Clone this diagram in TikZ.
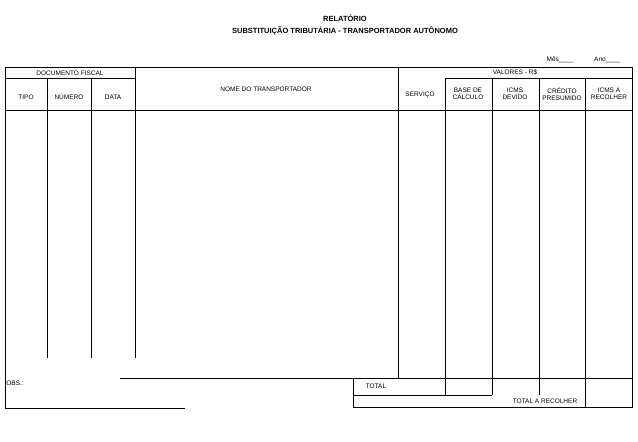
\documentclass[tikz,border=0pt]{standalone}
\usepackage{fontspec}
\setmainfont{Liberation Sans}
\usetikzlibrary{positioning}

\begin{document}
\begin{tikzpicture}[x=1pt, y=-1pt, line width=0.8pt]
        \tikzstyle{lbl} = [font=\fontsize{6.5}{7}\selectfont, align=center, inner sep=0pt]
        \tikzstyle{ttl} = [font=\bfseries\fontsize{7.5}{8}\selectfont, inner sep=0pt]
        \useasboundingbox (0,0) rectangle (638,442);
        
        \node [ttl] (title) at (345,18) {RELATÓRIO};
        \node [ttl, below=5pt of title] (subtitle) {SUBSTITUIÇÃO TRIBUTÁRIA - TRANSPORTADOR AUTÔNOMO};
        \node [lbl] (mes) at (560,60) {Mês\_\_\_\_};
        \node [lbl, right=20pt of mes] (ano) {Ano\_\_\_\_};
        
        % frame and rulings
        \draw (5,67) -- (632,67);
        \draw (5,67) -- (5,408) -- (185,408);
        \draw (632,67) -- (632,408);
        \draw (5,78) -- (135,78);
        \draw (445,78) -- (632,78);
        \draw (5,110) -- (632,110);
        \foreach \x in {47,91} \draw (\x,78) -- (\x,358);
        \draw (135,67) -- (135,358);
        \draw (398,67) -- (398,378);
        \draw (445,78) -- (445,395);
        \foreach \x in {492,539} \draw (\x,78) -- (\x,395);
        \draw (585,78) -- (585,408);
        \draw (120,378) -- (632,378);
        \draw (353,378) -- (353,408);
        \draw (353,395) -- (492,395);
        \draw (353,407) -- (632,407);
        
        \node [lbl] (docfiscal) at (70,73) {DOCUMENTO FISCAL};
        \node [lbl] (tipo) at (26,97) {TIPO};
        \node [lbl] (numero) at (69,97) {NÚMERO};
        \node [lbl] (data) at (113,97) {DATA};
        \node [lbl] (nome) at (266,89) {NOME DO TRANSPORTADOR};
        \node [lbl] (servico) at (420,95) {SERVIÇO};
        \node [lbl] (valores) at (515,72) {VALORES - R\$};
        \node [lbl] (base) at (468,94) {BASE DE\\CÁLCULO};
        \node [lbl] (devido) at (515,94) {ICMS\\DEVIDO};
        \node [lbl] (credito) at (562,94) {CRÉDITO\\PRESUMIDO};
        \node [lbl] (recolher) at (609,94) {ICMS A\\RECOLHER};
        \node [lbl, anchor=west] (obs) at (6,383) {OBS.:};
        \node [lbl] (total) at (376,386) {TOTAL};
        \node [lbl] (totalrec) at (545,401) {TOTAL A RECOLHER};
    \end{tikzpicture}
\end{document}
